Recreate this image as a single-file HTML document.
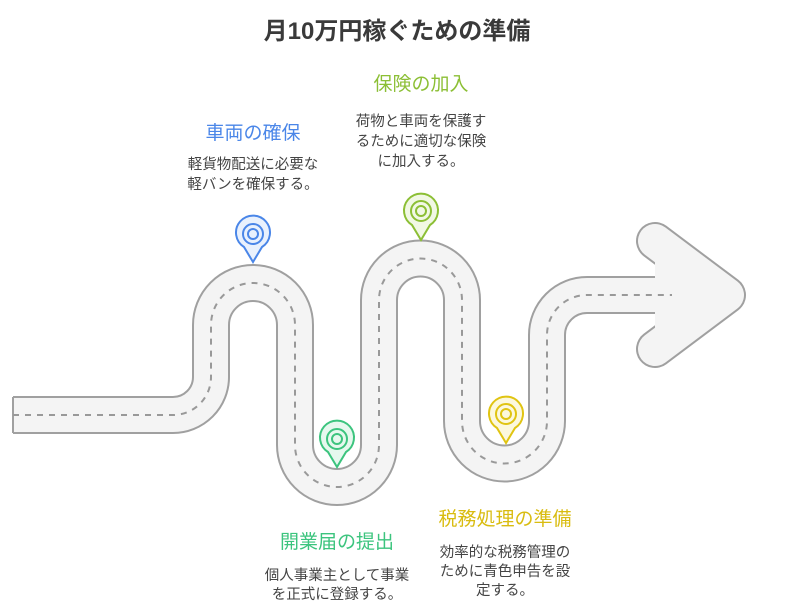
<!DOCTYPE html>
<html><head><meta charset="utf-8"><style>
html,body{margin:0;padding:0;background:#fff;}
svg{display:block;}
text{font-family:"Liberation Sans","Noto Sans CJK JP",sans-serif;}
</style></head><body>
<svg width="794" height="614" viewBox="0 0 794 614" xmlns="http://www.w3.org/2000/svg">
<text x="397" y="39" text-anchor="middle" font-size="24" font-weight="bold" fill="#3a3a3a">月10万円稼ぐための準備</text>

<defs>
<path id="road" d="M13 415 H173 A38 38 0 0 0 211 377 V325 A42 42 0 0 1 295 325 V445 A42 42 0 0 0 379 445 V300 A41.5 41.5 0 0 1 462 300 V421 A42.5 42.5 0 0 0 547 421 V335 A40 40 0 0 1 587 295 H672"/>
<path id="arms" d="M655 241 L727 295 L655 349"/>
</defs>

<use href="#road" fill="none" stroke="#a0a0a0" stroke-width="38"/>
<use href="#arms" fill="none" stroke="#a0a0a0" stroke-width="38" stroke-linejoin="round" stroke-linecap="round"/>
<use href="#road" fill="none" stroke="#f4f4f4" stroke-width="34"/>
<path d="M13 397 V433" stroke="#a0a0a0" stroke-width="2"/>
<use href="#arms" fill="#f4f4f4" stroke="#f4f4f4" stroke-width="34" stroke-linejoin="round" stroke-linecap="round"/>
<path d="M655 241 L727 295 L655 349 Z" fill="#f4f4f4"/>
<rect x="640" y="278" width="40" height="34" fill="#f4f4f4"/>
<use href="#road" fill="none" stroke="#999" stroke-width="2" stroke-dasharray="6 6"/>

<!-- pins -->
<g stroke="#4a86e8" stroke-width="2" fill="#e9f1fd">
<path d="M253 262 L244 247 A17 17 0 1 1 262 247 Z"/>
<circle cx="253" cy="234" r="10" fill="none"/><circle cx="253" cy="234" r="5" fill="none"/>
</g>
<g stroke="#3cc47e" stroke-width="2" fill="#e6f8ee">
<path d="M337 467 L328 452 A17 17 0 1 1 346 452 Z"/>
<circle cx="337" cy="439" r="10" fill="none"/><circle cx="337" cy="439" r="5" fill="none"/>
</g>
<g stroke="#8cbf35" stroke-width="2" fill="#f1f8e4">
<path d="M421 240 L412 225 A17 17 0 1 1 430 225 Z"/>
<circle cx="421" cy="211" r="10" fill="none"/><circle cx="421" cy="211" r="5" fill="none"/>
</g>
<g stroke="#e0c412" stroke-width="2" fill="#fcf8dd">
<path d="M506 443 L497 428 A17 17 0 1 1 515 428 Z"/>
<circle cx="506" cy="414" r="10" fill="none"/><circle cx="506" cy="414" r="5" fill="none"/>
</g>

<!-- labels -->
<g font-size="19">
<text x="253" y="139" text-anchor="middle" fill="#4a86e8">車両の確保</text>
<text x="421" y="90" text-anchor="middle" fill="#8cbf35">保険の加入</text>
<text x="337" y="548" text-anchor="middle" fill="#3cc47e">開業届の提出</text>
<text x="505" y="525" text-anchor="middle" fill="#d9bc10">税務処理の準備</text>
</g>
<g font-size="14.5" fill="#444" text-anchor="middle">
<text x="253" y="169">軽貨物配送に必要な</text>
<text x="253" y="189">軽バンを確保する。</text>
<text x="421" y="126">荷物と車両を保護す</text>
<text x="421" y="146">るために適切な保険</text>
<text x="421" y="166">に加入する。</text>
<text x="337" y="580">個人事業主として事業</text>
<text x="337" y="599">を正式に登録する。</text>
<text x="505" y="557">効率的な税務管理の</text>
<text x="505" y="576">ために青色申告を設</text>
<text x="505" y="595">定する。</text>
</g>
</svg>
</body></html>
